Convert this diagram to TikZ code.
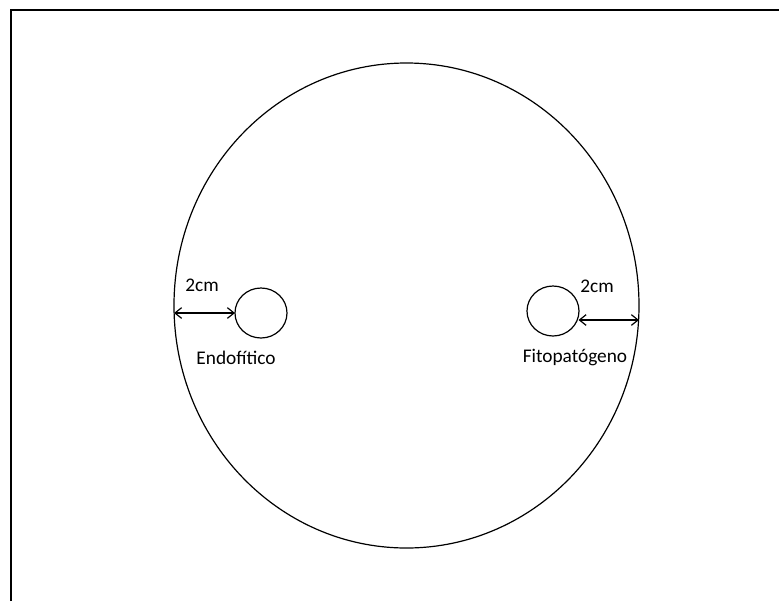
\documentclass[tikz,border=0pt]{standalone}
\usepackage{fontspec}
\setmainfont{Carlito}
\usetikzlibrary{arrows.meta,shapes.geometric}
\begin{document}
\begin{tikzpicture}[x=0.75pt,y=-0.75pt,
  shape line/.style={line width=0.9pt},
  dim/.style={line width=0.9pt,{Straight Barb[length=5pt,width=8pt]}-{Straight Barb[length=5pt,width=8pt]}},
  lbl/.style={font=\fontsize{14.5}{17}\selectfont, inner sep=0pt}]
\useasboundingbox (0,0) rectangle (779,601);
\draw[line width=1.3pt] (11,601) -- (11,10) -- (781,10);
\node[shape line, draw, ellipse, minimum width=465*0.75pt, minimum height=485*0.75pt, inner sep=0pt] (dish) at (406.5,305.5) {};
\node[shape line, draw, ellipse, minimum width=52*0.75pt, minimum height=50*0.75pt, inner sep=0pt] (endo) at (261,313) {};
\node[shape line, draw, ellipse, minimum width=52*0.75pt, minimum height=50*0.75pt, inner sep=0pt] (fito) at (553,311) {};
\coordinate (dl) at (174,313);
\coordinate (dr) at (639,320);
\coordinate (el) at (235,313);
\coordinate (fr) at (578.5,320);
\draw[dim] (dl) -- (el);
\draw[dim] (fr) -- (dr);
\node[lbl] (t1) at (202,285) {2cm};
\node[lbl] (t2) at (597,286) {2cm};
\node[lbl] (n1) at (236,358) {Endofítico};
\node[lbl] (n2) at (575,358) {Fitopatógeno};
\end{tikzpicture}
\end{document}
